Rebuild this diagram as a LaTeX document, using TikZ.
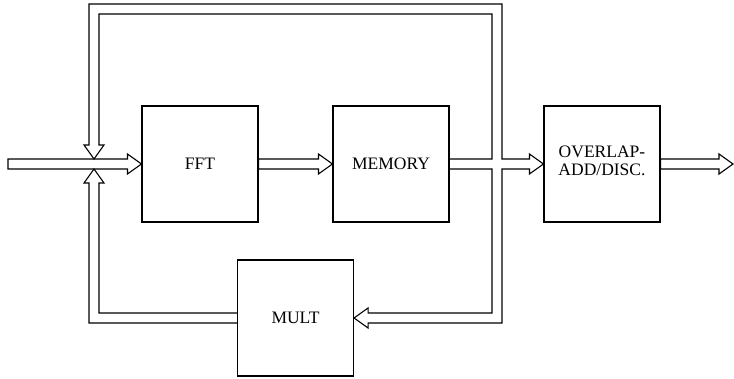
\documentclass[tikz,border=0pt]{standalone}
\usepackage{fontspec}
\setmainfont{Liberation Serif}
\usetikzlibrary{calc}
\tikzset{
  blk/.style={draw, line width=1.1pt, minimum width=116pt, minimum height=116pt, inner sep=0pt, align=center, font=\fontsize{17.5}{23}\selectfont},
  pipe/.style={draw, line width=1.1pt, line join=miter},
}
% hollow (outlined) arrow from #1 to #2, pointing right
\newcommand{\hpipe}[2]{\draw[pipe] ($(#1)+(0,-5)$) -- ($(#2)+(-14,-5)$) -- ++(0,-5) -- (#2) -- ++(-14,10) -- ++(0,-5) -- ($(#1)+(0,5)$) -- cycle;}

\begin{document}
\begin{tikzpicture}[x=1pt, y=-1pt]
  \useasboundingbox (0,0) rectangle (734,379);

  \node[blk] (fft) at (200,164) {FFT};
  \node[blk] (mem) at (391,164) {MEMORY};
  \node[blk] (ola) at (602,164) {\raisebox{7pt}{\shortstack{OVERLAP-\\[3pt]ADD/DISC.}}};
  \node[blk] (mult) at (295.5,318) {MULT};

  \coordinate (in) at (8,164);
  \coordinate (out) at (733,164);
  \coordinate (x) at (94,164);
  \coordinate (jn) at (497,164);
  \coordinate (tl) at (94,9);
  \coordinate (tr) at (497,9);
  \coordinate (bl) at (94,318);
  \coordinate (br) at (497,318);

  \hpipe{in}{fft.west}
  \hpipe{fft.east}{mem.west}
  \hpipe{ola.east}{out}

  % memory output: split to overlap-add, top loop and mult
  \draw[pipe] ($(mem.east)+(0,-5)$) -- ($(jn)+(-5,-5)$) -- ($(tr)+(-5,5)$) -- ($(tl)+(5,5)$)
    -- ($(x)+(5,-19)$) -- ++(5,0) -- ($(x)+(0,-5)$) -- ++(-10,-14) -- ++(5,0)
    -- ($(tl)+(-5,-5)$) -- ($(tr)+(5,-5)$) -- ($(jn)+(5,-5)$)
    -- ($(ola.west)+(-14,-5)$) -- ++(0,-5) -- (ola.west) -- ++(-14,10) -- ++(0,-5)
    -- ($(jn)+(5,5)$) -- ($(br)+(5,5)$)
    -- ($(mult.east)+(14,5)$) -- ++(0,5) -- (mult.east) -- ++(14,-10) -- ++(0,5)
    -- ($(br)+(-5,-5)$) -- ($(jn)+(-5,5)$) -- ($(mem.east)+(0,5)$);

  % mult back to the input
  \draw[pipe] ($(mult.west)+(0,-5)$) -- ($(bl)+(5,-5)$) -- ($(x)+(5,19)$) -- ++(5,0)
    -- ($(x)+(0,5)$) -- ++(-10,14) -- ++(5,0) -- ($(bl)+(-5,5)$) -- ($(mult.west)+(0,5)$);
\end{tikzpicture}
\end{document}
